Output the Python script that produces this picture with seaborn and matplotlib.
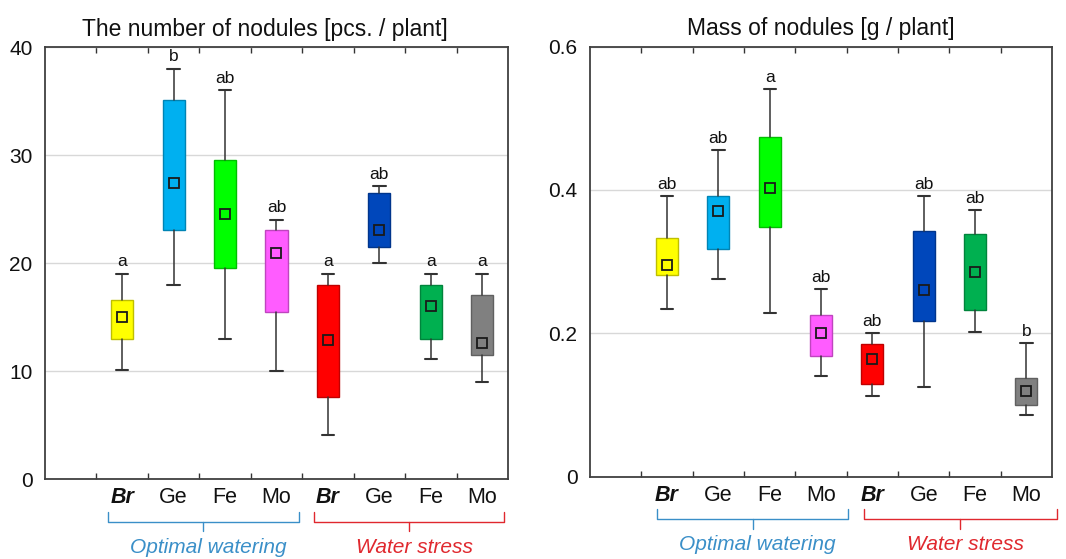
import numpy as np
import matplotlib
matplotlib.use("Agg")
import matplotlib.pyplot as plt
import matplotlib.colors as mcolors
import matplotlib.transforms as mtransforms
import seaborn as sns

sns.set_theme(style="white")
plt.rcParams['font.family'] = ['Liberation Sans', 'DejaVu Sans']

# ---------------------------------------------------------
# DATA
# ---------------------------------------------------------
TREATMENTS = ['Br', 'Ge', 'Fe', 'Mo', 'Br', 'Ge', 'Fe', 'Mo']
GROUPS = ['Optimal watering', 'Water stress']
COLORS = ['#FFFF00', '#00B0F0', '#00FF00', '#FF5CFF',
          '#FF0000', '#0047BB', '#00B050', '#808080']

# number of nodules [pcs. / plant]
count_mean = [15.0, 27.4, 24.5, 20.9, 12.9, 23.1, 16.0, 12.6]
count_box_lo = [13.0, 23.1, 19.5, 15.5, 7.6, 21.5, 13.0, 11.5]
count_box_hi = [16.6, 35.1, 29.5, 23.1, 18.0, 26.5, 18.0, 17.0]
count_min = [10.1, 18.0, 13.0, 10.0, 4.1, 20.0, 11.1, 9.0]
count_max = [19.0, 38.0, 36.0, 24.0, 19.0, 27.1, 19.0, 19.0]
count_letters = ['a', 'b', 'ab', 'ab', 'a', 'ab', 'a', 'a']

# mass of nodules [g / plant]
mass_mean = [0.295, 0.371, 0.403, 0.201, 0.164, 0.261, 0.285, 0.119]
mass_box_lo = [0.281, 0.317, 0.348, 0.168, 0.129, 0.217, 0.232, 0.100]
mass_box_hi = [0.333, 0.391, 0.474, 0.226, 0.185, 0.343, 0.338, 0.138]
mass_min = [0.234, 0.276, 0.229, 0.141, 0.113, 0.125, 0.202, 0.086]
mass_max = [0.391, 0.455, 0.541, 0.262, 0.200, 0.391, 0.372, 0.186]
mass_letters = ['ab', 'ab', 'a', 'ab', 'ab', 'ab', 'ab', 'b']

GROUP_COLORS = ['#3A8FC8', '#E0282E']
LINE_COL = '#333333'


def darken(c, f=0.75):
    r, g, b = mcolors.to_rgb(c)
    return (r * f, g * f, b * f)


def draw_panel(ax, means, lo, hi, wmin, wmax, letters, ymax, yticks, yticklabels,
               title, title_x, bracket_spans):
    pos = np.arange(1, len(means) + 1)
    stats = [dict(med=m, q1=a, q3=b, whislo=c, whishi=d, mean=m, fliers=[])
             for m, a, b, c, d in zip(means, lo, hi, wmin, wmax)]
    bp = ax.bxp(stats, positions=pos, widths=0.43, patch_artist=True,
                showmeans=True, showfliers=False, capwidths=0.24, manage_ticks=False,
                medianprops=dict(linewidth=0),
                whiskerprops=dict(color=LINE_COL, linewidth=1.1),
                capprops=dict(color=LINE_COL, linewidth=1.5),
                meanprops=dict(marker='s', markersize=6.5, markerfacecolor='none',
                               markeredgecolor='#1a1a1a', markeredgewidth=1.3))
    for patch, c in zip(bp['boxes'], COLORS):
        patch.set_facecolor(c)
        patch.set_edgecolor(darken(c))
        patch.set_linewidth(1.0)

    # significance letters
    off = ymax * 0.01
    for x, top, lab in zip(pos, wmax, letters):
        ax.text(x, top + off, lab, ha='center', va='bottom', fontsize=12.5, color='#111111')

    ax.set_xlim(-0.5, 8.5)
    ax.set_ylim(0, ymax)
    ax.set_yticks(yticks)
    ax.set_yticklabels(yticklabels, fontsize=15)
    ax.set_xticks(pos)
    ax.set_xticklabels(TREATMENTS, fontsize=15.5)
    for i, t in enumerate(ax.get_xticklabels()):
        if TREATMENTS[i] == 'Br':
            t.set_fontweight('bold')
            t.set_fontstyle('italic')
    ax.set_xticks(np.arange(0.5, 8.5, 1.0), minor=True)
    ax.tick_params(axis='x', which='major', length=0, pad=6, colors='#111111')
    ax.tick_params(axis='x', which='minor', length=4, direction='in', top=True,
                   bottom=True, color=LINE_COL, width=1)
    ax.tick_params(axis='y', length=0, pad=9, colors='#111111')

    ax.yaxis.grid(True, color='#D8D8D8', linewidth=1.0)
    ax.set_axisbelow(True)
    for sp in ax.spines.values():
        sp.set_color('#404040')
        sp.set_linewidth(1.3)

    ax.set_title(title, fontsize=16.5, x=title_x, pad=8, color='#111111')

    # group brackets under the tick labels
    trans = mtransforms.blended_transform_factory(ax.transData, ax.transAxes)
    for (x0, x1), name, col in zip(bracket_spans, GROUPS, GROUP_COLORS):
        xm = (x0 + x1) / 2
        ax.plot([x0, x0, x1, x1], [-0.076, -0.099, -0.099, -0.076], color=col,
                lw=1.0, transform=trans, clip_on=False)
        ax.plot([xm, xm], [-0.099, -0.121], color=col, lw=1.0,
                transform=trans, clip_on=False)
        ax.text(xm + 0.1, -0.158, name, color=col, fontsize=15, fontstyle='italic',
                ha='center', va='center', transform=trans)


fig = plt.figure(figsize=(10.66, 5.59), dpi=100)
ax1 = fig.add_axes([0.0422, 0.1431, 0.4343, 0.7728])
ax2 = fig.add_axes([0.5535, 0.1472, 0.4334, 0.7696])

draw_panel(ax1, count_mean, count_box_lo, count_box_hi, count_min, count_max,
           count_letters, 40, [0, 10, 20, 30, 40], ['0', '10', '20', '30', '40'],
           'The number of nodules [pcs. / plant]', 0.475,
           [(0.72, 4.43), (4.73, 8.43)])
draw_panel(ax2, mass_mean, mass_box_lo, mass_box_hi, mass_min, mass_max,
           mass_letters, 0.6, [0, 0.2, 0.4, 0.6], ['0', '0.2', '0.4', '0.6'],
           'Mass of nodules [g / plant]', 0.5,
           [(0.8, 4.53), (4.83, 8.6)])

fig.savefig('out.png', dpi=100)
